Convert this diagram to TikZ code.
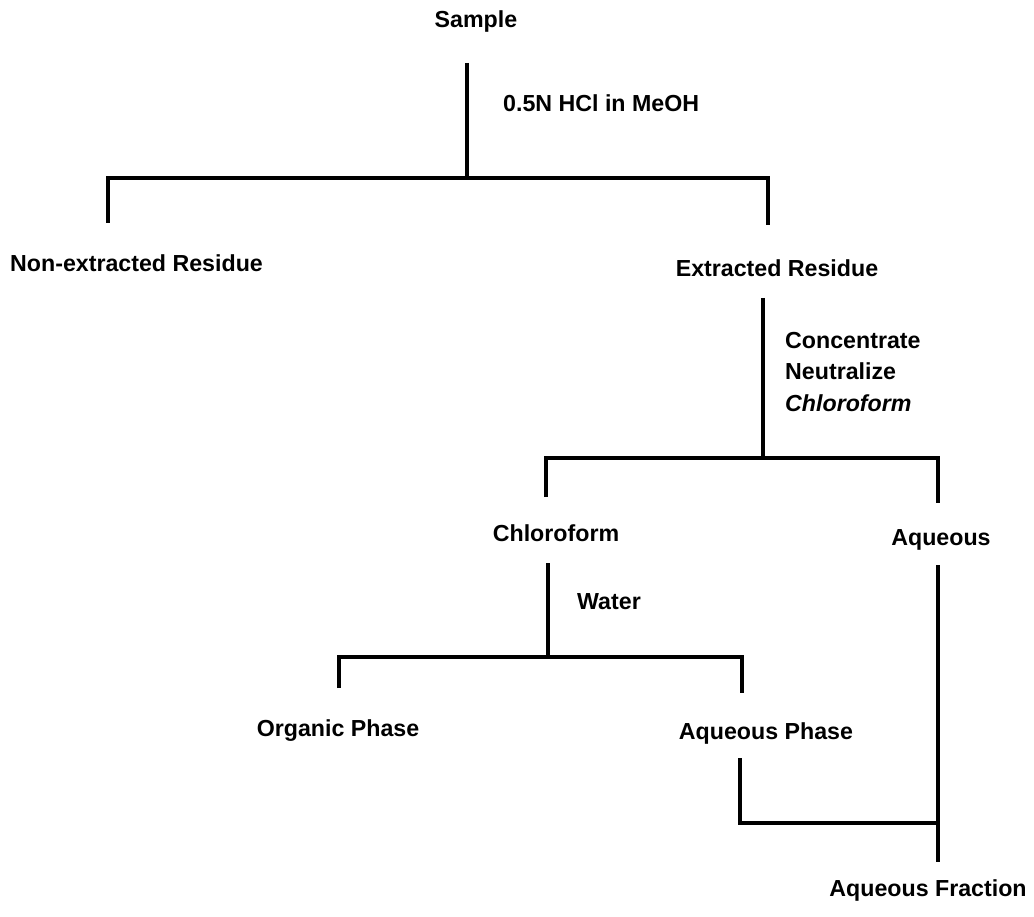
\documentclass[tikz,border=0pt]{standalone}
\usepackage{fontspec}
\setmainfont{Liberation Sans}
\begin{document}
\begin{tikzpicture}[x=1pt,y=-1pt,
  lbl/.style={inner sep=0pt,font=\bfseries\fontsize{23.2}{31.5}\selectfont},
  ln/.style={line width=3.2pt,line cap=butt,line join=miter}]
\useasboundingbox[fill=white] (0,0) rectangle (1034,917);
% nodes
\node[lbl] (sample) at (476,22) {Sample};
\node[lbl,anchor=west] (hcl) at (503,103) {0.5N HCl in MeOH};
\node[lbl,anchor=west] (nonext) at (10,263) {Non-extracted Residue};
\node[lbl] (ext) at (777,268) {Extracted Residue};
\node[lbl,anchor=west,align=left] (conc) at (785,372) {Concentrate\\Neutralize\\\textit{Chloroform}};
\node[lbl] (chloro) at (556,533) {Chloroform};
\node[lbl] (aq) at (941,540) {Aqueous};
\node[lbl,anchor=west] (water) at (577,602) {Water};
\node[lbl] (organic) at (338,731) {Organic Phase};
\node[lbl] (aqphase) at (766,733) {Aqueous Phase};
\node[lbl] (aqfrac) at (928,890) {Aqueous Fraction};
% coordinates
\coordinate (s1) at (467,63);
\coordinate (j1) at (467,178);
\coordinate (b1l) at (108,178);
\coordinate (b1r) at (768,178);
\coordinate (d1l) at (108,223);
\coordinate (d1r) at (768,225);
\coordinate (e1) at (763,298);
\coordinate (j2) at (763,458);
\coordinate (b2l) at (546,458);
\coordinate (b2r) at (938,458);
\coordinate (d2l) at (546,497);
\coordinate (d2r) at (938,503);
\coordinate (c1) at (548,563);
\coordinate (j3) at (548,657);
\coordinate (b3l) at (339,657);
\coordinate (b3r) at (742,657);
\coordinate (d3l) at (339,688);
\coordinate (d3r) at (742,693);
\coordinate (a1) at (938,565);
\coordinate (j4) at (938,823);
\coordinate (a2) at (938,862);
\coordinate (p1) at (740,758);
\coordinate (p2) at (740,823);
% connectors
\draw[ln] (s1) -- (j1);
\draw[ln] (d1l) -- (b1l) -- (b1r) -- (d1r);
\draw[ln] (e1) -- (j2);
\draw[ln] (d2l) -- (b2l) -- (b2r) -- (d2r);
\draw[ln] (c1) -- (j3);
\draw[ln] (d3l) -- (b3l) -- (b3r) -- (d3r);
\draw[ln] (a1) -- (a2);
\draw[ln] (p1) -- (p2) -- (j4);
\end{tikzpicture}
\end{document}
